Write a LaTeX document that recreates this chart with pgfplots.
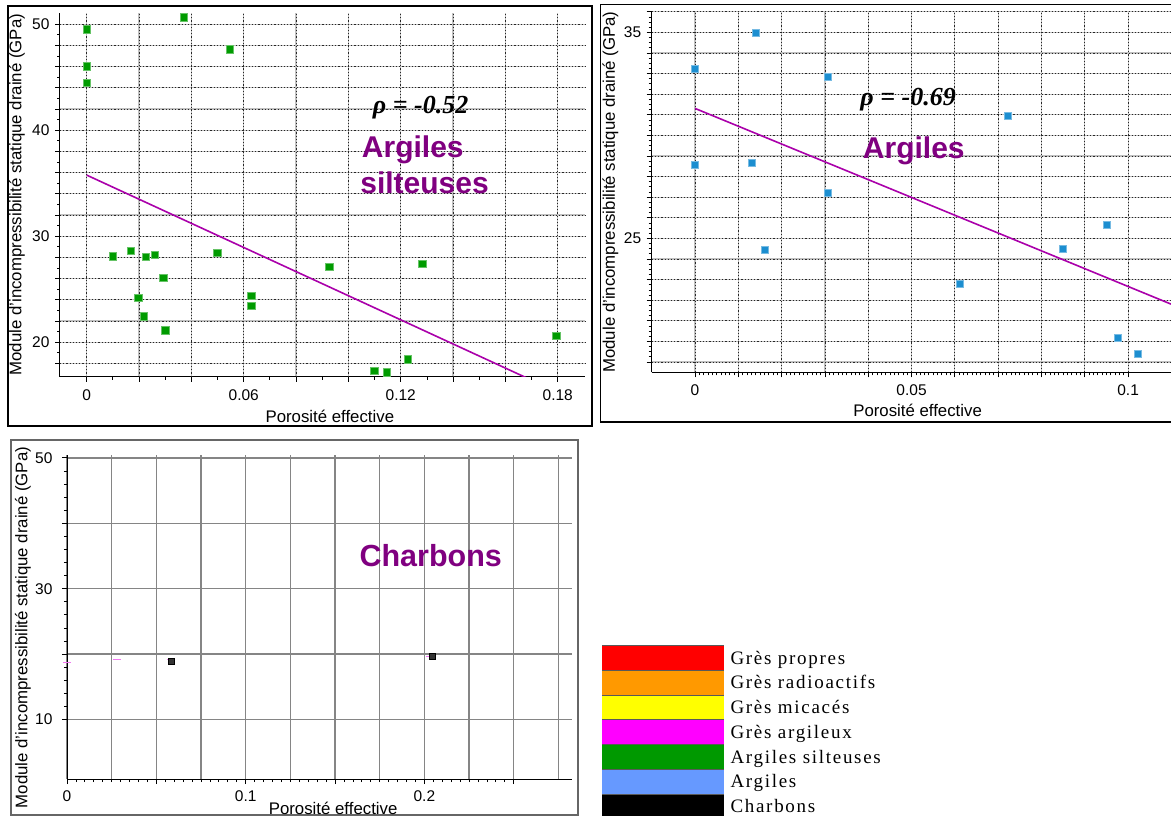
\documentclass[border=0pt]{standalone}
\usepackage{pgfplots}
\pgfplotsset{compat=1.18}
\usepackage{fontspec}
\setmainfont{Liberation Sans}
\newfontfamily\serifrho{Liberation Serif}
\newfontfamily\legfont{Liberation Serif}[LetterSpace=9]
\definecolor{sgreen}{RGB}{0,155,0}
\definecolor{sblue}{RGB}{28,142,208}
\definecolor{lmag}{RGB}{170,0,170}
\definecolor{tpurp}{RGB}{128,0,128}
\definecolor{legblue}{RGB}{102,153,255}
\definecolor{legorange}{RGB}{255,153,0}
\definecolor{legred}{RGB}{255,0,0}
\definecolor{legyellow}{RGB}{255,255,0}
\definecolor{legmag}{RGB}{255,0,255}
\definecolor{leggreen}{RGB}{0,153,0}
\definecolor{pinkmk}{RGB}{240,120,240}
\pgfplotsset{
  every axis/.append style={
    scale only axis, anchor=south west, tick align=outside,
    /pgf/number format/assume math mode=true,
    ticklabel style={font=\fontsize{15.5}{16}\selectfont},
    label style={font=\fontsize{16.8}{17}\selectfont},
    axis x line*=bottom, axis y line*=left,
    axis line style={black, line width=1pt},
    major tick length=5pt, minor tick length=3pt,
    tick style={black, line width=0.8pt},
    clip mode=individual,
  }
}
\begin{document}
\begin{tikzpicture}
\path[use as bounding box] (0pt,0pt) rectangle (1171pt,-816pt);
\draw[black, line width=1.5pt] (8pt,-6pt) rectangle (592pt,-426pt);
\draw[black, line width=1.5pt] (600.5pt,-4.5pt) rectangle (1180pt,-422pt);
\draw[black!60, line width=1.5pt] (11pt,-440pt) rectangle (578pt,-815pt);

% ---------- Panel 1 : Argiles silteuses ----------
\begin{axis}[at={(60pt,-376.7pt)}, width=525pt, height=364.1pt,
  xmin=-0.0102, xmax=0.1904, ymin=16.75, ymax=51.1,
  xtick={0,0.02,0.04,0.06,0.08,0.1,0.12,0.14,0.16,0.18},
  xticklabels={0,,,0.06,,,0.12,,,0.18},
  minor x tick num=1,
  ytick={18,20,22,24,26,28,30,32,34,36,38,40,42,44,46,48,50},
  yticklabels={,20,,,,,30,,,,,40,,,,,50},
  minor y tick num=1,
  grid=major, major grid style={gray!50, line width=1.2pt},
  extra x ticks={0,0.02,0.04,0.06,0.08,0.1,0.12,0.14,0.16,0.18},
  extra x tick labels={},
  extra y ticks={18,20,22,24,26,28,30,32,34,36,38,40,42,44,46,48,50},
  extra y tick labels={},
  extra tick style={grid=major, major grid style={black!85, dotted, line width=0.8pt}, major tick length=0pt},
  xlabel={Porosité effective},
  ylabel={Module d'incompressibilité statique drainé (GPa)},
  xlabel style={at={(axis description cs:0.514,-0.108)}, anchor=center},
  ylabel style={at={(axis description cs:-0.0819,0.5)}, anchor=center},
  xticklabel style={yshift=-4pt}, yticklabel style={xshift=-2pt},
]
\addplot[lmag, line width=1.6pt] coordinates {(0,35.77) (0.168,16.65)};
\addplot[only marks, mark=square*, mark size=3.8pt,
  mark options={fill=sgreen, draw=sgreen!60!white, line width=0.5pt}] coordinates {
(0,49.53) (0,46.04) (0,44.50) (0.0371,50.66) (0.0547,47.64) (0.0099,28.14)
(0.0168,28.65) (0.0225,28.08) (0.0260,28.24) (0.0293,26.07) (0.0196,24.18)
(0.0218,22.48) (0.0301,21.16) (0.0498,28.43) (0.0628,24.37) (0.0628,23.43)
(0.0927,27.11) (0.1283,27.39) (0.1794,20.60) (0.1099,17.30) (0.1146,17.17)
(0.1226,18.40)};
\node[anchor=base west, inner sep=0pt, font=\serifrho\bfseries\itshape\fontsize{26}{26}\selectfont] at (axis cs:0.1093,41.60) {ρ = -0.52};
\node[anchor=base west, inner sep=0pt, text=tpurp, font=\bfseries\fontsize{30}{30}\selectfont] at (axis cs:0.1051,37.45) {Argiles};
\node[anchor=base west, inner sep=0pt, text=tpurp, font=\bfseries\fontsize{30}{30}\selectfont] at (axis cs:0.1045,34.06) {silteuses};
\end{axis}

% ---------- Panel 2 : Argiles ----------
\begin{axis}[at={(651.7pt,-372.3pt)}, width=519.3pt, height=360.5pt,
  xmin=-0.01, xmax=0.1099, ymin=18.5, ymax=36,
  xtick={0,0.01,0.02,0.03,0.04,0.05,0.06,0.07,0.08,0.09,0.1},
  xticklabels={0,,,,,0.05,,,,,0.1},
  minor x tick num=9,
  ytick={19,20,21,22,23,24,25,26,27,28,29,30,31,32,33,34,35,36},
  yticklabels={,,,,,,25,,,,,,,,,,35,},
  minor y tick num=3,
  grid=major, major grid style={gray!50, line width=1.2pt},
  extra x ticks={0,0.01,0.02,0.03,0.04,0.05,0.06,0.07,0.08,0.09,0.1},
  extra x tick labels={},
  extra y ticks={19,20,21,22,23,24,25,26,27,28,29,30,31,32,33,34,35,36},
  extra y tick labels={},
  extra tick style={grid=major, major grid style={black!85, dotted, line width=0.8pt}, major tick length=0pt},
  xlabel={Porosité effective},
  ylabel={Module d'incompressibilité statique drainé (GPa)},
  xlabel style={at={(axis description cs:0.512,-0.1065)}, anchor=center},
  ylabel style={at={(axis description cs:-0.0795,0.5)}, anchor=center},
  xticklabel style={yshift=-4pt}, yticklabel style={xshift=-2pt},
]
\addplot[lmag, line width=1.6pt] coordinates {(0,31.31) (0.1099,21.81)};
\addplot[only marks, mark=square*, mark size=3.5pt,
  mark options={fill=sblue, draw=sblue!60!white, line width=0.5pt}] coordinates {
(0,33.25) (0,28.56) (0.01395,35.0) (0.0131,28.66) (0.0162,24.45) (0.0307,32.86)
(0.0307,27.20) (0.0611,22.82) (0.0722,30.94) (0.0850,24.50) (0.0950,25.65)
(0.0976,20.18) (0.1022,19.42)};
\node[anchor=base west, inner sep=0pt, font=\serifrho\bfseries\itshape\fontsize{26}{26}\selectfont] at (axis cs:0.03815,31.47) {ρ = -0.69};
\node[anchor=base west, inner sep=0pt, text=tpurp, font=\bfseries\fontsize{30}{30}\selectfont] at (axis cs:0.03873,28.88) {Argiles};
\end{axis}

% ---------- Panel 3 : Charbons ----------
\begin{axis}[at={(67pt,-779pt)}, width=505pt, height=324.4pt,
  xmin=0, xmax=0.2826, ymin=0.9, ymax=50.5,
  xtick={0,0.05,0.1,0.15,0.2,0.25},
  xticklabels={0,,0.1,,0.2,},
  minor x tick num=9,
  extra x ticks={0.025,0.075,0.125,0.175,0.225,0.275},
  extra x tick labels={},
  extra x tick style={grid=major, major grid style={black!48, line width=1.3pt}, major tick length=0pt},
  ytick={10,20,30,40,50}, yticklabels={10,,30,,50},
  minor y tick num=4,
  grid=major, major grid style={black!48, line width=1.3pt},
  xlabel={Porosité effective},
  ylabel={Module d'incompressibilité statique drainé (GPa)},
  xlabel style={at={(axis description cs:0.527,-0.0906)}, anchor=center},
  ylabel style={at={(axis description cs:-0.0871,0.467)}, anchor=center},
  xticklabel style={yshift=-3pt}, yticklabel style={xshift=-6pt},
]
\addplot[only marks, mark=-, mark size=4pt, pinkmk, line width=1pt] coordinates {
(0,18.76) (0.0278,19.12) (0.0584,19.12) (0.203,19.68)};
\addplot[only marks, mark=square*, mark size=3pt,
  mark options={fill=black!80, draw=black, line width=0.6pt}] coordinates {
(0.0584,18.9) (0.2042,19.66)};
\node[anchor=base west, inner sep=0pt, text=tpurp, font=\bfseries\fontsize{30.5}{30.5}\selectfont] at (axis cs:0.1636,33.35) {Charbons};
\end{axis}

% ---------- Legend ----------
\begin{axis}[hide axis, at={(602pt,-645pt)}, anchor=north west, width=10pt, height=10pt,
  xmin=0, xmax=1, ymin=0, ymax=1,
  legend style={at={(0,1)}, anchor=north west, draw=none, fill=none,
    inner sep=0pt, outer sep=0pt, row sep=0pt, column sep=0pt,
    font=\legfont\fontsize{19}{19}\selectfont,
    nodes={inner sep=0pt, text depth=0pt}, cells={anchor=west}},
  legend cell align=left,
  legend image code/.code={
    \fill[#1, draw=none] (0pt,-12.4pt) rectangle (121.6pt,11.4pt);
    \fill[black!65, draw=none] (0pt,11.4pt) rectangle (121.6pt,12.4pt);
    \path (128.3pt,0pt);},
]
\addlegendimage{fill=legred}\addlegendentry{Grès propres}
\addlegendimage{fill=legorange}\addlegendentry{Grès radioactifs}
\addlegendimage{fill=legyellow}\addlegendentry{Grès micacés}
\addlegendimage{fill=legmag}\addlegendentry{Grès argileux}
\addlegendimage{fill=leggreen}\addlegendentry{Argiles silteuses}
\addlegendimage{fill=legblue}\addlegendentry{Argiles}
\addlegendimage{fill=black}\addlegendentry{Charbons}
\end{axis}
\end{tikzpicture}
\end{document}
